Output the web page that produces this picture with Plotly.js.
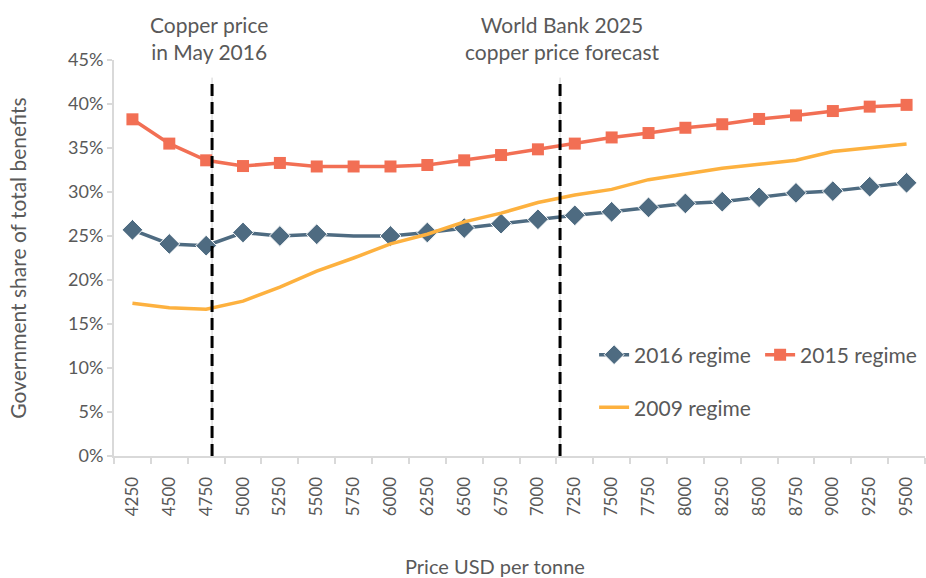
<!DOCTYPE html>
<html>
<head>
<meta charset="utf-8">
<script src="https://cdn.plot.ly/plotly-3.0.1.min.js"></script>
<style>html,body{margin:0;padding:0;background:#fff;}#chart{width:926px;height:578px;}</style>
</head>
<body>
<div id="chart"></div>
<script>
// ---- data ----
const prices = [4250,4500,4750,5000,5250,5500,5750,6000,6250,6500,6750,7000,7250,7500,7750,8000,8250,8500,8750,9000,9250,9500];
const regime2016 = [25.7,24.1,23.9,25.4,25.0,25.2,25.0,25.0,25.4,25.9,26.4,26.9,27.35,27.75,28.25,28.7,28.9,29.4,29.9,30.1,30.6,31.05];
const regime2015 = [38.26,35.5,33.6,32.95,33.3,32.9,32.9,32.9,33.07,33.6,34.2,34.85,35.5,36.2,36.7,37.3,37.7,38.3,38.7,39.2,39.7,39.9];
const regime2009 = [17.35,16.85,16.67,17.6,19.2,21.0,22.5,24.1,25.2,26.6,27.6,28.8,29.65,30.3,31.4,32.05,32.7,33.15,33.6,34.6,35.0,35.45];
const tickLabels = prices.map(String);
const may2016Price = 4790;
const wb2025Forecast = 7150;
const refLineTop = 0.427;

const pct = a => a.map(v => v / 100);
const grey = '#595959';
const axisGrey = '#d9d9d9';
const font = 'Lato, "Open Sans", sans-serif';

const traces = [
  {x: prices, y: pct(regime2016), name: '2016 regime', type: 'scatter', mode: 'lines+markers',
   line: {color: '#4e6b81', width: 3.5},
   marker: {symbol: 'diamond', size: prices.map((p, i) => i === 6 ? 0 : 16), color: '#4e6b81', opacity: 1},
   legend: 'legend'},
  {x: prices, y: pct(regime2015), name: '2015 regime', type: 'scatter', mode: 'lines+markers',
   line: {color: '#f26f54', width: 3.5},
   marker: {symbol: 'square', size: 12, color: '#f26f54'},
   legend: 'legend'},
  {x: prices, y: pct(regime2009), name: '2009 regime', type: 'scatter', mode: 'lines',
   line: {color: '#fdb13f', width: 3.5},
   legend: 'legend2'}
];

const refLines = [may2016Price, wb2025Forecast];
const shapes = [];
refLines.forEach(p => {
  shapes.push({type: 'line', xref: 'x', yref: 'y', x0: p, x1: p, y0: 0, y1: refLineTop + 0.003,
    line: {color: '#d0d0d0', width: 1}, layer: 'below'});
  shapes.push({type: 'line', xref: 'x', yref: 'y', x0: p, x1: p, y0: 0, y1: refLineTop,
    line: {color: '#000', width: 3, dash: '12px,6px'}});
});

const layout = {
  width: 926, height: 578,
  margin: {l: 114, r: 1, t: 60, b: 122, autoexpand: false},
  paper_bgcolor: '#fff', plot_bgcolor: '#fff',
  font: {family: font, color: grey, size: 18},
  showlegend: true,
  xaxis: {
    range: [4125, 9625], tickmode: 'array', tickvals: prices, ticktext: tickLabels,
    tickangle: -90, ticks: '', showgrid: false, zeroline: false,
    showline: true, linecolor: axisGrey, linewidth: 2,
    tickfont: {family: font, size: 17, color: grey},
    ticklabelstandoff: 12,
    minor: {ticks: 'outside', tick0: 4125, dtick: 250, ticklen: 6, tickwidth: 2, tickcolor: axisGrey, showgrid: false}
  },
  yaxis: {
    range: [0, 0.45], dtick: 0.05, tick0: 0, tickformat: '.0%',
    ticks: 'outside', ticklen: 5, tickwidth: 2, tickcolor: axisGrey,
    showline: true, linecolor: axisGrey, linewidth: 2,
    showgrid: false, zeroline: false,
    tickfont: {family: font, size: 18, color: grey},
    title: {text: 'Government share of total benefits', font: {family: font, size: 21, color: grey}, standoff: 36}
  },
  legend: {orientation: 'h', x: 0.592, y: 0.255, xanchor: 'left', yanchor: 'middle',
    entrywidth: 121, entrywidthmode: 'pixels',
    font: {family: font, size: 21, color: grey}, bgcolor: 'rgba(0,0,0,0)'},
  legend2: {orientation: 'h', x: 0.592, y: 0.122, xanchor: 'left', yanchor: 'middle',
    font: {family: font, size: 21, color: grey}, bgcolor: 'rgba(0,0,0,0)'},
  shapes: shapes,
  annotations: [
    {text: 'Copper price<br>in May 2016', xref: 'paper', yref: 'paper', x: (209 - 114) / 811, y: 1.0,
     xanchor: 'center', yanchor: 'bottom', yshift: -6,
     showarrow: false, font: {family: font, size: 21, color: grey}, align: 'center'},
    {text: 'World Bank 2025<br>copper price forecast', xref: 'paper', yref: 'paper', x: (562 - 114) / 811, y: 1.0,
     xanchor: 'center', yanchor: 'bottom', yshift: -6,
     showarrow: false, font: {family: font, size: 21, color: grey}, align: 'center'},
    {text: 'Price USD per tonne', xref: 'paper', yref: 'paper', x: (495 - 114) / 811, y: -0.278,
     xanchor: 'center', yanchor: 'middle',
     showarrow: false, font: {family: font, size: 20, color: grey}}
  ]
};

Plotly.newPlot('chart', traces, layout, {displayModeBar: false, responsive: false});
</script>
</body>
</html>
